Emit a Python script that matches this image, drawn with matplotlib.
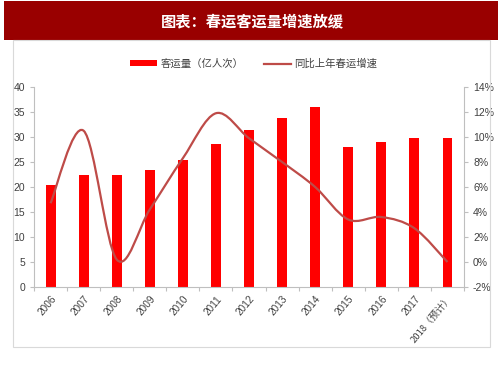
import matplotlib

matplotlib.use("Agg")
import matplotlib.pyplot as plt
import numpy as np
from matplotlib.patches import Rectangle, PathPatch
from matplotlib.path import Path
from matplotlib.lines import Line2D

plt.rcParams["font.family"] = ["Liberation Sans", "Noto Sans CJK SC", "DejaVu Sans"]

years = ["2006", "2007", "2008", "2009", "2010", "2011", "2012",
         "2013", "2014", "2015", "2016", "2017", "2018（预计）"]
volume = [20.4, 22.5, 22.5, 23.5, 25.5, 28.6, 31.4, 33.9, 36.1, 28.1, 29.1, 29.8, 29.8]
growth = [4.7, 10.5, 0.2, 4.2, 8.3, 11.9, 9.9, 8.0, 6.0, 3.4, 3.6, 2.7, 0.0]

title = "图表：春运客运量增速放缓"
bar_label = "客运量（亿人次）"
line_label = "同比上年春运增速"

BAR_RED = "#FF0000"
LINE_RED = "#BE4B48"
AXIS_GRAY = "#BFBFBF"
TEXT_GRAY = "#404040"


def smooth_path(xs, ys, t=1 / 6):
    # Excel-like smoothed line as cubic Bezier segments through the points
    pts = np.column_stack([xs, ys])
    verts = [pts[0]]
    codes = [Path.MOVETO]
    n = len(pts)
    for i in range(n - 1):
        p0 = pts[i - 1] if i > 0 else pts[i]
        p1, p2 = pts[i], pts[i + 1]
        p3 = pts[i + 2] if i + 2 < n else pts[i + 1]
        c1 = p1 + (p2 - p0) * t
        c2 = p2 - (p3 - p1) * t
        verts += [c1, c2, p2]
        codes += [Path.CURVE4] * 3
    return Path(verts, codes)


fig = plt.figure(figsize=(5.03, 3.78), dpi=100)

# title banner
fig.patches.append(Rectangle((4 / 503, 1 - 40 / 378), 494 / 503, 39 / 378,
                             transform=fig.transFigure, facecolor="#990000",
                             edgecolor="none", zorder=0))
fig.text(252 / 503, 1 - 21 / 378, title, color="white", fontsize=11, fontweight="bold",
         ha="center", va="center", family=["Noto Sans CJK SC"])
# chart frame
fig.patches.append(Rectangle((12.5 / 503, 1 - 347 / 378), 477.5 / 503, 307 / 378,
                             transform=fig.transFigure, facecolor="none",
                             edgecolor="#D9D9D9", linewidth=0.8, zorder=0))

ax = fig.add_axes([34 / 503, 1 - 287 / 378, 430 / 503, 200 / 378])
x = np.arange(len(years))
ax.bar(x, volume, width=0.3, color=BAR_RED, zorder=2)
ax.set_xlim(-0.5, len(years) - 0.5)
ax.set_ylim(0, 40)
ax.set_yticks(range(0, 41, 5))

ax2 = ax.twinx()
ax2.set_ylim(-2, 14)
ax2.set_yticks(range(-2, 15, 2))
ax2.set_yticklabels([f"{v}%" for v in range(-2, 15, 2)])
ax2.add_patch(PathPatch(smooth_path(x, growth), facecolor="none", edgecolor=LINE_RED,
                        linewidth=1.6, zorder=3))

for a in (ax, ax2):
    for s in a.spines.values():
        s.set_visible(False)
    a.tick_params(colors=AXIS_GRAY, labelcolor=TEXT_GRAY, labelsize=7.5, length=3, width=0.8)
ax.spines["left"].set_visible(True)
ax.spines["left"].set_color(AXIS_GRAY)
ax.spines["bottom"].set_visible(True)
ax.spines["bottom"].set_color(AXIS_GRAY)
ax2.spines["right"].set_visible(True)
ax2.spines["right"].set_color(AXIS_GRAY)

ax.set_xticks(np.arange(-0.5, len(years), 1.0))
ax.set_xticklabels([])
ax.set_xticks(x, minor=True)
labels = ax.set_xticklabels(years, minor=True, rotation=50, ha="right", rotation_mode="anchor",
                            fontsize=7.2, color=TEXT_GRAY)
labels[-1].set_fontfamily(["Noto Sans CJK SC"])
labels[-1].set_fontsize(6.8)
ax.tick_params(axis="x", which="minor", length=0, pad=5)

handles = [Rectangle((0, 0), 1, 1, facecolor=BAR_RED, edgecolor="none"),
           Line2D([], [], color=LINE_RED, linewidth=1.6)]
fig.legend(handles, [bar_label, line_label], loc="center", bbox_to_anchor=(254 / 503, 1 - 64 / 378),
           ncol=2, frameon=False, handlelength=2.6, handleheight=0.5,
           columnspacing=2.0, handletextpad=0.3,
           prop={"family": ["Noto Sans CJK SC"], "size": 7.5}, labelcolor=TEXT_GRAY)

fig.savefig("out.png", dpi=100)
plt.close(fig)
